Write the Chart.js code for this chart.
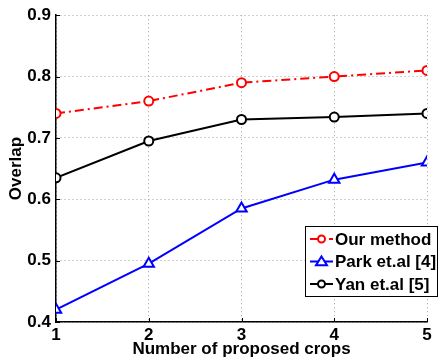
<!DOCTYPE html>
<html>
<head>
<meta charset="utf-8">
<script src="https://cdn.jsdelivr.net/npm/chart.js@4.4.1/dist/chart.umd.min.js"></script>
<style>
  html, body { margin: 0; padding: 0; background: #fff; }
  #wrap { width: 439px; height: 360px; position: relative; }
</style>
</head>
<body>
<div id="wrap"><canvas id="c" width="439" height="360"></canvas></div>
<script>
// Number of proposed crops
const crops = [1, 2, 3, 4, 5];
// Overlap per method
const ourMethod = [0.74, 0.76, 0.79, 0.80, 0.81];
const parkEtAl = [0.42, 0.495, 0.585, 0.632, 0.66];
const yanEtAl = [0.635, 0.695, 0.73, 0.734, 0.74];
const seriesNames = ['Our method', 'Park et.al [4]', 'Yan et.al [5]'];
const yTicks = [0.4, 0.5, 0.6, 0.7, 0.8, 0.9];

const FONT = 'Liberation Sans, Arial, Helvetica, sans-serif';

// Short inward tick marks along the left and bottom axes
const inwardTicks = {
  id: 'inwardTicks',
  afterDatasetsDraw(chart) {
    const { ctx, chartArea: a, scales: { x, y } } = chart;
    ctx.save();
    ctx.strokeStyle = '#000';
    ctx.lineWidth = 1;
    crops.forEach(v => {
      const px = Math.round(x.getPixelForValue(v)) + 0.5;
      ctx.beginPath();
      ctx.moveTo(px, a.bottom);
      ctx.lineTo(px, a.bottom - 4);
      ctx.stroke();
    });
    yTicks.forEach(v => {
      const py = Math.round(y.getPixelForValue(v)) + 0.5;
      ctx.beginPath();
      ctx.moveTo(a.left, py);
      ctx.lineTo(a.left + 4, py);
      ctx.stroke();
    });
    ctx.restore();
  }
};

// Boxed legend drawn inside the plot's lower-right corner
const boxLegend = {
  id: 'boxLegend',
  afterDraw(chart) {
    const ctx = chart.ctx;
    const x0 = 305, y0 = 226, w = 133, h = 71;
    ctx.save();
    ctx.fillStyle = '#fff';
    ctx.fillRect(x0, y0, w, h);
    ctx.strokeStyle = '#000';
    ctx.lineWidth = 1;
    ctx.strokeRect(x0 + 0.5, y0 + 0.5, w - 1, h - 1);
    ctx.font = 'bold 17px ' + FONT;
    ctx.textBaseline = 'middle';
    chart.data.datasets.forEach((ds, i) => {
      const y = y0 + 13 + i * 22.5;
      ctx.strokeStyle = ds.borderColor;
      ctx.lineWidth = 2;
      ctx.setLineDash(ds.borderDash || []);
      ctx.beginPath();
      ctx.moveTo(x0 + 5, y);
      ctx.lineTo(x0 + 28, y);
      ctx.stroke();
      ctx.setLineDash([]);
      const cx = x0 + 16.5;
      ctx.fillStyle = '#fff';
      ctx.beginPath();
      if (ds.pointStyle === 'triangle') {
        const r = 5;
        ctx.moveTo(cx, y - r);
        ctx.lineTo(cx + r * 1.1, y + r * 0.75);
        ctx.lineTo(cx - r * 1.1, y + r * 0.75);
        ctx.closePath();
      } else {
        ctx.arc(cx, y, 3.5, 0, Math.PI * 2);
      }
      ctx.fill();
      ctx.stroke();
      ctx.fillStyle = '#000';
      ctx.fillText(ds.label, x0 + 30, y + 1);
    });
    ctx.restore();
  }
};

new Chart(document.getElementById('c'), {
  type: 'line',
  data: {
    labels: crops,
    datasets: [
      {
        label: seriesNames[0],
        data: ourMethod,
        borderColor: '#ff0000',
        backgroundColor: '#ffffff',
        borderWidth: 2,
        borderDash: [9, 4, 2, 4],
        pointStyle: 'circle',
        pointRadius: 4.5,
        pointBorderWidth: 2,
        pointBackgroundColor: '#ffffff',
        tension: 0
      },
      {
        label: seriesNames[1],
        data: parkEtAl,
        borderColor: '#0000ff',
        backgroundColor: '#ffffff',
        borderWidth: 2,
        pointStyle: 'triangle',
        pointRadius: 6,
        pointBorderWidth: 2,
        pointBackgroundColor: '#ffffff',
        tension: 0
      },
      {
        label: seriesNames[2],
        data: yanEtAl,
        borderColor: '#000000',
        backgroundColor: '#ffffff',
        borderWidth: 2,
        pointStyle: 'circle',
        pointRadius: 4.5,
        pointBorderWidth: 2,
        pointBackgroundColor: '#ffffff',
        tension: 0
      }
    ]
  },
  options: {
    responsive: false,
    animation: false,
    layout: { padding: { top: 14, right: 12, left: 0, bottom: 0 } },
    plugins: {
      legend: { display: false },
      tooltip: { enabled: false }
    },
    scales: {
      x: {
        type: 'linear',
        min: 1,
        max: 5,
        afterBuildTicks(axis) { axis.ticks = crops.map(v => ({ value: v })); },
        afterFit(axis) { axis.height = 38; },
        grid: {
          color: '#a0a0a0',
          lineWidth: 1,
          drawTicks: false
        },
        border: { display: true, color: '#000', width: 1.5, dash: [1, 3] },
        ticks: {
          color: '#000',
          padding: 3,
          font: { family: FONT, size: 17, weight: 'bold' },
          callback: v => String(v)
        },
        title: {
          display: true,
          text: 'Number of proposed crops',
          color: '#000',
          padding: { top: -3, bottom: 0 },
          font: { family: FONT, size: 17, weight: 'bold' }
        }
      },
      y: {
        min: 0.4,
        max: 0.9,
        afterBuildTicks(axis) { axis.ticks = yTicks.map(v => ({ value: v })); },
        afterFit(axis) { axis.width = 56; },
        grid: {
          color: '#a0a0a0',
          lineWidth: 1,
          drawTicks: false
        },
        border: { display: true, color: '#000', width: 1.5, dash: [1, 3] },
        ticks: {
          color: '#000',
          padding: 5,
          font: { family: FONT, size: 17, weight: 'bold' },
          callback: v => v.toFixed(1)
        },
        title: {
          display: true,
          text: 'Overlap',
          color: '#000',
          padding: { top: 6, bottom: 0 },
          font: { family: FONT, size: 17, weight: 'bold' }
        }
      }
    }
  },
  plugins: [inwardTicks, boxLegend]
});
</script>
</body>
</html>
